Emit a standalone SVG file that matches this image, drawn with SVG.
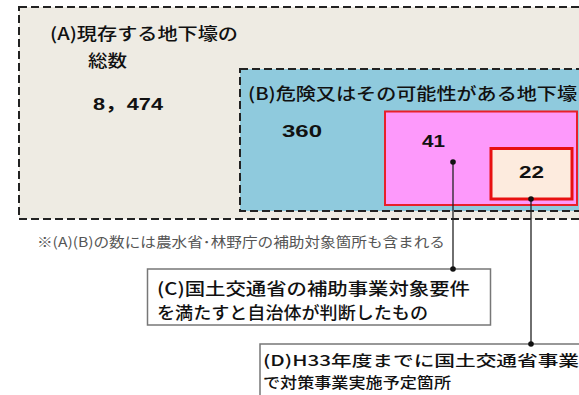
<svg xmlns="http://www.w3.org/2000/svg" width="579" height="395" viewBox="0 0 579 395">
<style>
.dash{stroke:#222;stroke-width:2;stroke-dasharray:8 4}
.jp{font-family:"Noto Sans CJK JP","Liberation Sans",sans-serif;fill:#111;font-size:17px;font-weight:500}
.num{font-family:"Liberation Sans","Noto Sans CJK JP",sans-serif;font-weight:bold;fill:#111;font-size:17px}
.lbl{fill:#fff;stroke:#777;stroke-width:1.5}
.conn{stroke:#222;stroke-width:1.3;fill:none}
</style>
<rect width="579" height="395" fill="#fff"/>
<g id="nodeA">
<rect x="19" y="7" width="600" height="212" fill="#eeebe3" class="dash"/>
<text class="jp" x="50" y="39.5" textLength="188" lengthAdjust="spacingAndGlyphs">(A)現存する地下壕の</text>
<text class="jp" x="88" y="66.5" textLength="39" lengthAdjust="spacingAndGlyphs">総数</text>
<text class="num" x="93" y="109.5" textLength="70" lengthAdjust="spacingAndGlyphs">8，474</text>
</g>
<g id="nodeB">
<rect x="240" y="69" width="400" height="142" fill="#8fcadd" class="dash"/>
<text class="jp" x="248" y="99.5" textLength="329" lengthAdjust="spacingAndGlyphs">(B)危険又はその可能性がある地下壕</text>
<text class="num" x="282" y="136.5" textLength="40" lengthAdjust="spacingAndGlyphs">360</text>
</g>
<g id="node41">
<rect x="385" y="111.5" width="192" height="93.5" fill="#fd99fb" stroke="#e8202a" stroke-width="2"/>
<text class="num" x="422" y="147" textLength="23" lengthAdjust="spacingAndGlyphs">41</text>
</g>
<g id="node22">
<rect x="491" y="148.5" width="81" height="50.5" fill="#fdebde" stroke="#e81010" stroke-width="3"/>
<text class="num" x="519" y="178" textLength="25" lengthAdjust="spacingAndGlyphs">22</text>
</g>
<g id="note">
<text x="37" y="247" textLength="408" lengthAdjust="spacingAndGlyphs" style="font-family:'Noto Sans CJK JP',sans-serif;font-size:13.5px;fill:#555">※(A)(B)の数には農水省･林野庁の補助対象箇所も含まれる</text>
</g>
<g id="nodeC">
<rect x="147.5" y="269" width="343" height="56" class="lbl"/>
<text class="jp" x="157" y="294.5" textLength="313" lengthAdjust="spacingAndGlyphs">(C)国土交通省の補助事業対象要件</text>
<text class="jp" x="157" y="318.5" textLength="271" lengthAdjust="spacingAndGlyphs">を満たすと自治体が判断したもの</text>
</g>
<g id="nodeD">
<rect x="260" y="344" width="340" height="60" class="lbl"/>
<text class="jp" x="263" y="366" textLength="316" lengthAdjust="spacingAndGlyphs" style="font-size:15px">(D)H33年度までに国土交通省事業</text>
<text class="jp" x="263" y="388" textLength="188" lengthAdjust="spacingAndGlyphs" style="font-size:15px">で対策事業実施予定箇所</text>
</g>
<g id="connectors">
<line class="conn" x1="453" y1="162" x2="453" y2="269"/>
<line class="conn" x1="531" y1="199" x2="531" y2="344"/>
<circle cx="453" cy="162" r="2.8" fill="#111"/>
<circle cx="453" cy="269" r="2.8" fill="#111"/>
<circle cx="531" cy="199" r="2.8" fill="#111"/>
<circle cx="531" cy="344" r="2.8" fill="#111"/>
</g>
</svg>
